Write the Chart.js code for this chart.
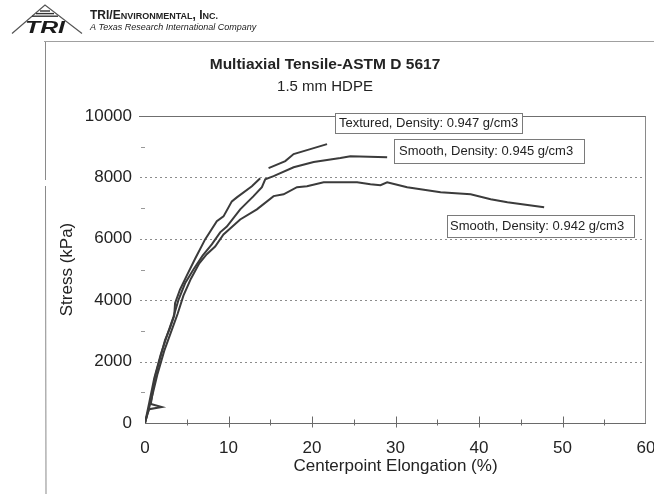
<!DOCTYPE html>
<html><head><meta charset="utf-8">
<script src="https://cdn.jsdelivr.net/npm/chart.js@4.4.1/dist/chart.umd.min.js"></script>
<style>html,body{margin:0;padding:0;background:#fff}canvas{display:block}</style>
</head><body>
<canvas id="c" width="654" height="494"></canvas>
<script>
// ---- data ----
const seriesNames = ["Textured, Density: 0.947 g/cm3", "Smooth, Density: 0.945 g/cm3", "Smooth, Density: 0.942 g/cm3"];

const texturedX = [0, 0.3, 0.5, 2.0, 0.7, 1.2, 1.8, 2.4, 3.0, 3.5, 3.6, 4.2, 5.0, 6.0, 7.2, 8.6, 9.4, 10.4, 11.0, 12.8, 13.8, 14.3, 14.8, 16.8, 17.8, 19.8, 21.8];
const texturedY = [0, 300, 450, 520, 620, 1500, 2100, 2700, 3100, 3500, 3900, 4350, 4800, 5350, 5980, 6570, 6730, 7220, 7350, 7710, 7970, null, 8300, 8530, 8760, 8920, 9085];

const smooth945X = [0, 0.5, 1.1, 1.9, 2.7, 3.4, 4.0, 4.8, 5.8, 6.9, 8.0, 9.0, 9.8, 11.4, 13.0, 14.0, 14.4, 15.4, 17.8, 20.2, 23.4, 24.6, 29.0];
const smooth945Y = [0, 650, 1450, 2250, 2900, 3450, 4000, 4550, 5000, 5450, 5820, 6210, 6400, 6960, 7390, 7680, 7940, 8040, 8330, 8500, 8630, 8690, 8660];

const smooth942X = [0, 0.7, 1.5, 2.3, 3.1, 3.9, 4.6, 5.5, 6.5, 7.4, 8.4, 9.4, 11.4, 13.4, 15.4, 16.6, 18.2, 19.4, 21.4, 23.4, 25.4, 27.0, 28.2, 29.0, 31.4, 35.4, 39.0, 41.4, 43.4, 47.8];
const smooth942Y = [0, 700, 1600, 2350, 2950, 3550, 4150, 4700, 5200, 5500, 5750, 6140, 6630, 6960, 7390, 7450, 7680, 7710, 7840, 7840, 7840, 7780, 7745, 7840, 7680, 7520, 7450, 7290, 7190, 7030];

const xTicks = [0, 10, 20, 30, 40, 50, 60];
const yTicks = [0, 2000, 4000, 6000, 8000, 10000];

// label placement (data units) and box padding
const labelPlacement = [
  {x: 22.75, y: 9770, padL: 3, padR: 5, h: 20},
  {x: 29.8, y: 8860, padL: 4, padR: 12, h: 24},
  {x: 36.2, y: 6420, padL: 2, padR: 11, h: 22}
];

const FONT = "'Liberation Sans', Arial, sans-serif";
const INK = '#232323';
const LINE = '#3b3b3b';

function pts(xs, ys) { return xs.map((x, i) => ({x: x, y: ys[i]})); }

const decor = {
  id: 'decor',
  beforeDatasetsDraw(chart) {
    const {ctx, chartArea: a, scales: {x, y}} = chart;
    ctx.save();
    ctx.lineWidth = 1;
    ctx.strokeStyle = '#8c8c8c';
    ctx.setLineDash([2, 3]);
    yTicks.forEach(v => {
      if (v === yTicks[0] || v === yTicks[yTicks.length - 1]) return;
      const py = Math.round(y.getPixelForValue(v)) + 0.5;
      ctx.beginPath(); ctx.moveTo(a.left - 5, py); ctx.lineTo(a.right, py); ctx.stroke();
    });
    ctx.setLineDash([]);
    const top = Math.round(y.getPixelForValue(yTicks[yTicks.length - 1])) + 0.5;
    ctx.strokeStyle = '#6f6f6f';
    ctx.beginPath(); ctx.moveTo(a.left - 6, top); ctx.lineTo(a.right, top); ctx.stroke();
    ctx.strokeStyle = '#8a8a8a';
    const rx = Math.round(a.right) - 0.5;
    ctx.beginPath(); ctx.moveTo(rx, top); ctx.lineTo(rx, a.bottom); ctx.stroke();
    ctx.strokeStyle = '#999';
    for (let i = 0; i < yTicks.length - 1; i++) {
      const v = (yTicks[i] + yTicks[i + 1]) / 2;
      const py = Math.round(y.getPixelForValue(v)) + 0.5;
      ctx.beginPath(); ctx.moveTo(a.left - 4, py); ctx.lineTo(a.left, py); ctx.stroke();
    }
    const by = Math.round(y.getPixelForValue(0)) + 0.5;
    ctx.strokeStyle = '#6a6a6a';
    ctx.beginPath(); ctx.moveTo(a.left, by); ctx.lineTo(a.right, by); ctx.stroke();
    xTicks.forEach((v, i) => {
      const px = Math.round(x.getPixelForValue(v)) + 0.5;
      if (i > 0 && i < xTicks.length - 1) { ctx.beginPath(); ctx.moveTo(px, by - 7); ctx.lineTo(px, by + 4); ctx.stroke(); }
      if (i < xTicks.length - 1) {
        const mx = Math.round(x.getPixelForValue((v + xTicks[i + 1]) / 2)) + 0.5;
        ctx.beginPath(); ctx.moveTo(mx, by - 4); ctx.lineTo(mx, by + 2); ctx.stroke();
      }
    });
    ctx.restore();
  },
  afterDraw(chart) {
    const {ctx, scales: {x, y}} = chart;
    ctx.save();
    ctx.font = '13px ' + FONT;
    ctx.textBaseline = 'middle';
    ctx.textAlign = 'left';
    seriesNames.forEach((name, i) => {
      const p = labelPlacement[i];
      const lx = Math.round(x.getPixelForValue(p.x)) + 0.5;
      const cy = y.getPixelForValue(p.y);
      const w = ctx.measureText(name).width + p.padL + p.padR;
      const ty = Math.round(cy - p.h / 2) + 0.5;
      ctx.fillStyle = '#fff';
      ctx.fillRect(lx, ty, w, p.h);
      ctx.strokeStyle = '#7a7a7a';
      ctx.lineWidth = 1;
      ctx.strokeRect(lx, ty, Math.round(w), p.h);
      ctx.fillStyle = INK;
      ctx.fillText(name, lx + p.padL + 0.5, cy + 0.5);
    });
    ctx.textAlign = 'center';
    ctx.fillStyle = INK;
    ctx.font = 'bold 15.5px ' + FONT;
    ctx.fillText('Multiaxial Tensile-ASTM D 5617', 325, 65);
    ctx.font = '15px ' + FONT;
    ctx.fillText('1.5 mm HDPE', 325, 87);
    ctx.strokeStyle = '#a0a0a0';
    ctx.lineWidth = 1;
    ctx.beginPath(); ctx.moveTo(44, 41.5); ctx.lineTo(654, 41.5); ctx.stroke();
    ctx.strokeStyle = '#8a8a8a';
    ctx.beginPath(); ctx.moveTo(45.5, 42); ctx.lineTo(45.5, 180); ctx.stroke();
    ctx.beginPath(); ctx.moveTo(45.5, 186); ctx.lineTo(46, 494); ctx.stroke();
    // logo
    ctx.strokeStyle = '#555';
    ctx.lineWidth = 1.2;
    ctx.beginPath(); ctx.moveTo(12, 33.5); ctx.lineTo(45, 5); ctx.lineTo(82, 33.5); ctx.stroke();
    ctx.strokeStyle = '#333';
    ctx.lineWidth = 1.4;
    for (let k = 0; k < 3; k++) {
      const yy = 11 + k * 2.6;
      const half = 5 + k * 4;
      ctx.beginPath(); ctx.moveTo(45 - half, yy); ctx.lineTo(45 + half, yy); ctx.stroke();
    }
    ctx.save();
    ctx.translate(25, 33);
    ctx.scale(1.55, 1);
    ctx.font = 'italic bold 16px ' + FONT;
    ctx.textAlign = 'left';
    ctx.textBaseline = 'alphabetic';
    ctx.fillStyle = '#1a1a1a';
    ctx.fillText('TRI', 0, 0);
    ctx.restore();
    ctx.textAlign = 'left';
    ctx.textBaseline = 'alphabetic';
    ctx.fillStyle = '#222';
    let cx = 90;
    const parts = [['TRI/E', 12], ['NVIRONMENTAL', 9], [', I', 12], ['NC.', 9]];
    parts.forEach(([t, s]) => {
      ctx.font = 'bold ' + s + 'px ' + FONT;
      ctx.fillText(t, cx, 19);
      cx += ctx.measureText(t).width;
    });
    ctx.font = 'italic 9px ' + FONT;
    ctx.fillText('A Texas Research International Company', 90, 30);
    ctx.restore();
  }
};

new Chart(document.getElementById('c'), {
  type: 'scatter',
  data: {
    datasets: [
      {label: seriesNames[0], data: pts(texturedX, texturedY)},
      {label: seriesNames[1], data: pts(smooth945X, smooth945Y)},
      {label: seriesNames[2], data: pts(smooth942X, smooth942Y)}
    ].map(d => Object.assign(d, {showLine: true, spanGaps: false, pointRadius: 0, borderColor: LINE, borderWidth: 2, tension: 0}))
  },
  options: {
    responsive: false,
    animation: false,
    devicePixelRatio: 1,
    layout: {padding: {left: 0, top: 116, right: 8, bottom: 0}},
    plugins: {legend: {display: false}, tooltip: {enabled: false}, title: {display: false}},
    scales: {
      x: {
        type: 'linear', min: 0, max: 60,
        afterBuildTicks(s) { s.ticks = xTicks.map(v => ({value: v})); },
        afterFit(s) { s.height = 71; s.paddingRight = 0; s.paddingLeft = 0; },
        grid: {display: false, drawTicks: false},
        border: {display: false},
        ticks: {font: {family: FONT, size: 17}, color: INK, padding: 15, maxRotation: 0},
        title: {display: true, text: 'Centerpoint Elongation (%)', font: {family: FONT, size: 17}, color: INK, padding: {top: 0, bottom: 17}}
      },
      y: {
        type: 'linear', min: 0, max: 10000,
        afterBuildTicks(s) { s.ticks = yTicks.map(v => ({value: v})); },
        afterFit(s) { s.width = 145; s.paddingTop = 0; s.paddingBottom = 0; },
        grid: {display: false, drawTicks: false},
        border: {display: false},
        ticks: {font: {family: FONT, size: 17}, color: INK, padding: 13, callback: v => String(v)},
        title: {display: true, text: 'Stress (kPa)', font: {family: FONT, size: 17}, color: INK, padding: {top: 57, bottom: 0}}
      }
    }
  },
  plugins: [decor]
});
</script>
</body></html>
